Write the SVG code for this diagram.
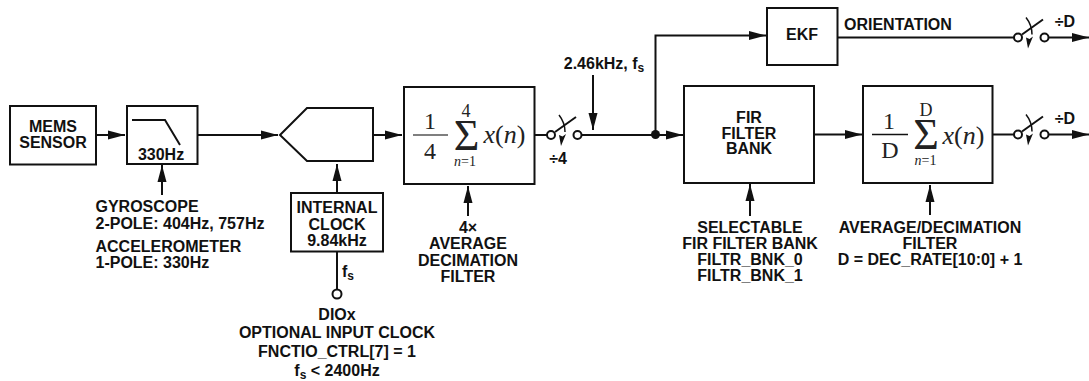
<svg xmlns="http://www.w3.org/2000/svg" width="1089" height="381" viewBox="0 0 1089 381">
<style>
text{font-family:"Liberation Sans",Arial,sans-serif;font-weight:bold;font-size:16px;fill:#111;text-anchor:middle}
.l{text-anchor:start}
.s{font-size:12px}
.m{font-family:"Liberation Serif","Times New Roman",serif;font-weight:normal;fill:#222}
.f{font-size:24px}
.u{font-size:18px}
.g{font-size:44px}
.n{font-size:14px}
.x{font-size:26px}
.r{font-style:normal}
.i{font-style:italic}
.b{fill:#fff;stroke:#111;stroke-width:2}
.w{fill:none;stroke:#111;stroke-width:2}
.t{fill:none;stroke:#111;stroke-width:1.500}
.o{fill:#fff;stroke:#111;stroke-width:2}
</style>
<defs>
<marker id="a" markerUnits="userSpaceOnUse" markerWidth="17" markerHeight="10" refX="17" refY="5" orient="auto"><path d="M0,0.500L17,5L0,9.500Z" fill="#111"/></marker>
<g id="sw">
<path class="w" d="M4,-3L25,-18"/>
<path class="t" d="M8,-20C12,-15 14,-10 14,-3"/>
<path d="M10,11L8,0L11.500,1.500L15,-1Z" fill="#111"/>
<circle class="o" cx="0" cy="0" r="4"/><circle class="o" cx="26.500" cy="0" r="4"/>
</g>
</defs>
<g id="connectors">
<path class="w" marker-end="url(#a)" d="M97,135H125"/>
<path class="w" marker-end="url(#a)" d="M198,135H278"/>
<path class="w" marker-end="url(#a)" d="M373,135H402"/>
<path class="w" marker-end="url(#a)" d="M162,195V165"/>
<path class="w" marker-end="url(#a)" d="M337,193V164"/>
<path class="w" d="M337,252V290"/>
<path class="w" marker-end="url(#a)" d="M468,216V186"/>
<path class="w" d="M535,135H547"/>
<path class="w" marker-end="url(#a)" d="M593,75V130"/>
<path class="w" marker-end="url(#a)" d="M581,135H683"/>
<path class="w" marker-end="url(#a)" d="M655.500,135V35.500H766"/>
<path class="w" marker-end="url(#a)" d="M750,216V184"/>
<path class="w" marker-end="url(#a)" d="M815,134.500H862"/>
<path class="w" marker-end="url(#a)" d="M930,215V185"/>
<path class="w" d="M838,37.500H1014"/>
<path class="w" marker-end="url(#a)" d="M1048,37.500H1089"/>
<path class="w" d="M993,134.500H1014"/>
<path class="w" marker-end="url(#a)" d="M1048,134.500H1089"/>
<circle cx="655.500" cy="134.500" r="4.500" fill="#111"/>
</g>
<g id="mems"><rect class="b" x="10" y="106" width="86" height="58.500"/><text x="53" y="132">MEMS</text><text x="53" y="148">SENSOR</text></g>
<g id="lpf"><rect class="b" x="127" y="106" width="70.500" height="58"/><path class="w" d="M132,120H165L180,145"/><text x="161" y="160">330Hz</text></g>
<g id="lpf-label"><text class="l" x="95.500" y="212">GYROSCOPE</text><text class="l" x="95.500" y="229">2-POLE: 404Hz, 757Hz</text><text class="l" x="95.500" y="252">ACCELEROMETER</text><text class="l" x="95.500" y="268">1-POLE: 330Hz</text></g>
<g id="adc"><path class="b" d="M280,135L307,108H373V161H307Z"/></g>
<g id="clock"><rect class="b" x="291" y="193" width="92" height="58.500"/><text x="337" y="213">INTERNAL</text><text x="337" y="230">CLOCK</text><text x="337" y="246">9.84kHz</text></g>
<g id="dio">
<text class="l" x="342" y="277">f<tspan class="s" dy="3">s</tspan></text>
<circle class="o" cx="337" cy="294" r="4.500"/>
<text x="337" y="320">DIOx</text><text x="337" y="338">OPTIONAL INPUT CLOCK</text><text x="337" y="357">FNCTIO_CTRL[7] = 1</text><text x="337" y="376">f<tspan class="s" dy="3">s</tspan><tspan dy="-3"> &lt; 2400Hz</tspan></text>
</g>
<g id="avg4"><rect class="b" x="404" y="87" width="130.500" height="97"/>
<text class="m f" x="430" y="129">1</text><path d="M413,135H448" stroke="#555" stroke-width="1.500"/><text class="m f" x="430" y="159">4</text>
<text class="m u" x="466" y="117">4</text><text class="m g" x="466.500" y="150">Σ</text><text class="m i n" x="465" y="166">n<tspan class="r">=1</tspan></text>
<text class="m i x" x="504.500" y="143">x<tspan class="r">(</tspan>n<tspan class="r">)</tspan></text></g>
<g id="avg4-label"><text x="468" y="233">4×</text><text x="468" y="249">AVERAGE</text><text x="468" y="265.500">DECIMATION</text><text x="468" y="281.500">FILTER</text></g>
<g id="sw1"><use href="#sw" x="551" y="135"/><text x="558" y="164">÷4</text></g>
<text x="604" y="69">2.46kHz, f<tspan class="s" dy="3">s</tspan></text>
<g id="ekf"><rect class="b" x="767" y="8" width="70.500" height="57"/><text x="802" y="40">EKF</text></g>
<text class="l" x="844" y="30">ORIENTATION</text>
<g id="fir"><rect class="b" x="684" y="86" width="130" height="97"/><text x="749" y="123">FIR</text><text x="749" y="139">FILTER</text><text x="749" y="154">BANK</text></g>
<g id="fir-label"><text x="750" y="233">SELECTABLE</text><text x="750" y="249">FIR FILTER BANK</text><text x="750" y="265">FILTR_BNK_0</text><text x="750" y="281">FILTR_BNK_1</text></g>
<g id="avgd"><rect class="b" x="863" y="86" width="129.500" height="97"/>
<text class="m f" x="889" y="129">1</text><path d="M872,134.500H908" stroke="#111" stroke-width="1.500"/><text class="m f" x="890" y="158">D</text>
<text class="m u" x="926" y="116">D</text><text class="m g" x="926" y="149">Σ</text><text class="m i n" x="925.500" y="165">n<tspan class="r">=1</tspan></text>
<text class="m i x" x="963.500" y="144">x<tspan class="r">(</tspan>n<tspan class="r">)</tspan></text></g>
<g id="avgd-label"><text x="930" y="233">AVERAGE/DECIMATION</text><text x="930" y="249">FILTER</text><text x="930" y="265">D = DEC_RATE[10:0] + 1</text></g>
<g id="sw2"><use href="#sw" x="1018" y="37.500"/><text x="1065" y="27">÷D</text></g>
<g id="sw3"><use href="#sw" x="1018" y="134.500"/><text x="1065" y="124">÷D</text></g>
</svg>
